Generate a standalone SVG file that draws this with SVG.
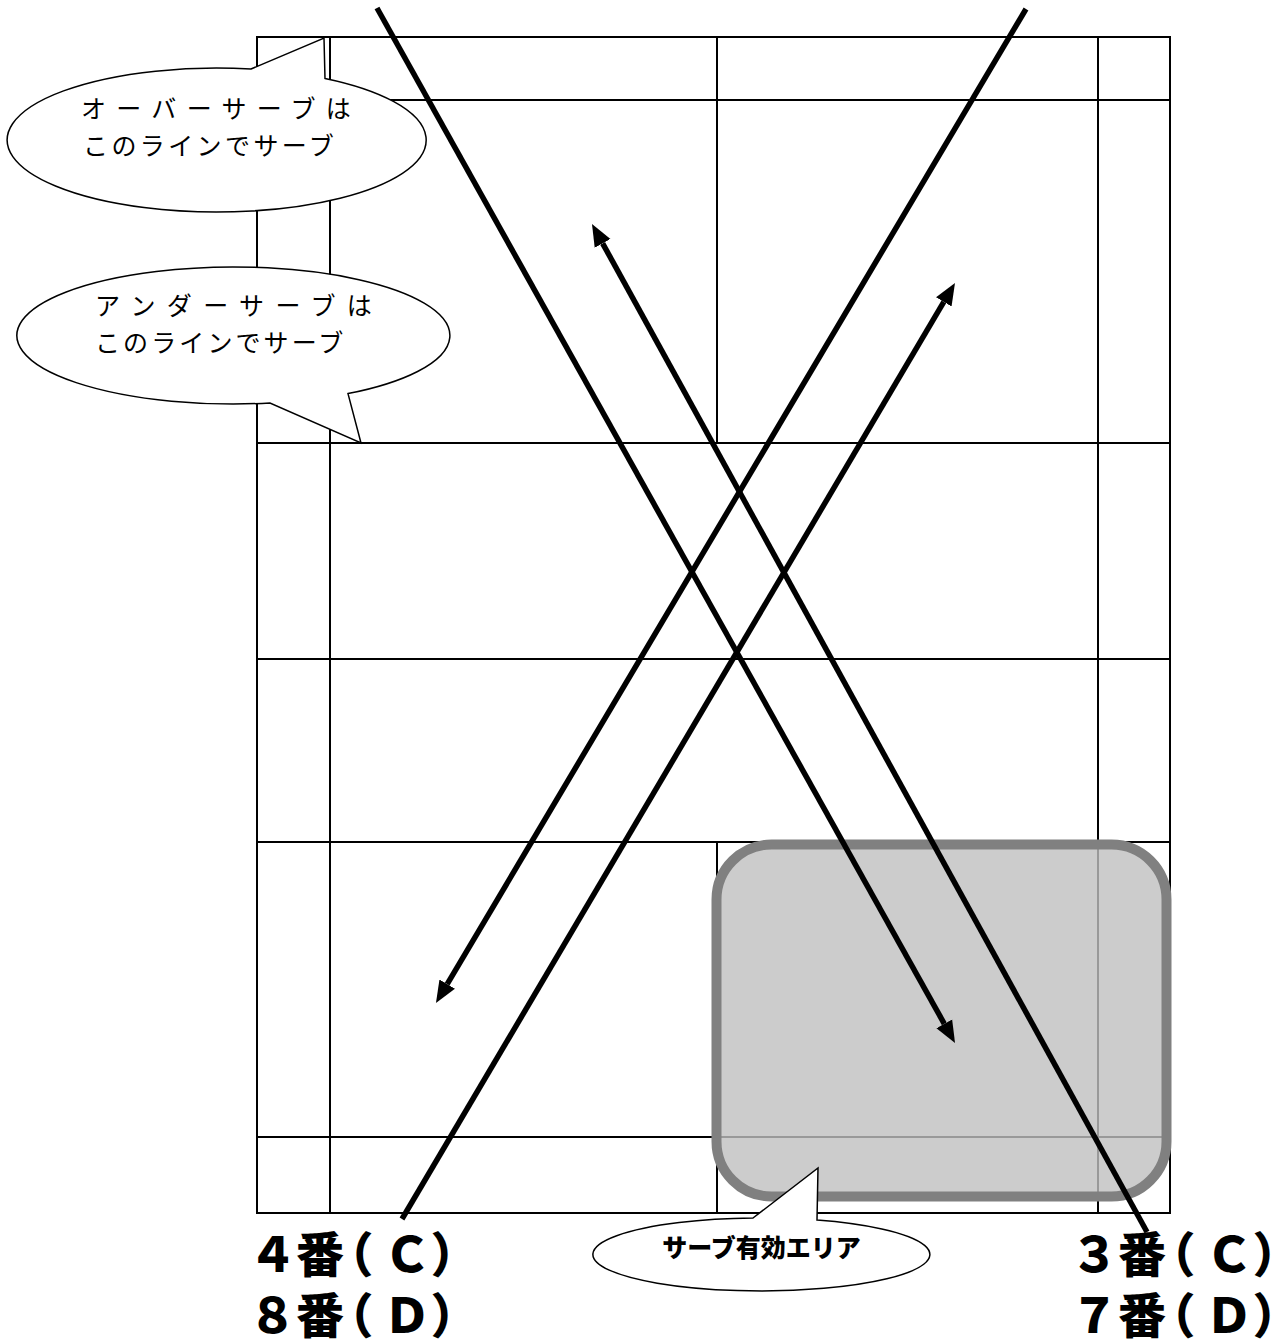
<svg xmlns="http://www.w3.org/2000/svg" width="1275" height="1340" viewBox="0 0 1275 1340">
<style>
.grid{stroke:#000;stroke-width:2;fill:none}
.area{fill:#bfbfbf;fill-opacity:0.8;stroke:#808080;stroke-width:10}
.callout{fill:#fff;stroke:#000;stroke-width:1.5}
.arrow{stroke:#000;stroke-width:5.5;fill:none}
.note{font-family:"Noto Sans CJK JP","Noto Sans CJK SC",sans-serif;font-size:25px;fill:#000}
.note-b{font-family:"Noto Sans CJK JP","Noto Sans CJK SC",sans-serif;font-size:25px;font-weight:900;fill:#000}
.label{font-family:"Noto Sans CJK JP","Noto Sans CJK SC",sans-serif;font-size:48px;font-weight:900;fill:#000}
</style>
<defs>
<marker id="head" markerUnits="userSpaceOnUse" markerWidth="24" markerHeight="20" viewBox="0 -10 24 20" refX="0" refY="0" orient="auto">
<path d="M0,-9 L22,0 L0,9 Z" fill="#000"/>
</marker>
</defs>
<rect width="1275" height="1340" fill="#fff"/>
<g id="court">
<rect class="grid" x="257" y="37" width="913" height="1176"/>
<line class="grid" x1="330" y1="37" x2="330" y2="1213"/>
<line class="grid" x1="1098" y1="37" x2="1098" y2="1213"/>
<line class="grid" x1="717" y1="37" x2="717" y2="443"/>
<line class="grid" x1="717" y1="842" x2="717" y2="1213"/>
<line class="grid" x1="257" y1="100" x2="1170" y2="100"/>
<line class="grid" x1="257" y1="443" x2="1170" y2="443"/>
<line class="grid" x1="257" y1="659" x2="1170" y2="659"/>
<line class="grid" x1="257" y1="842" x2="1170" y2="842"/>
<line class="grid" x1="257" y1="1137" x2="1170" y2="1137"/>
</g>
<g id="serve-area">
<rect class="area" x="716.5" y="844.5" width="450" height="352" rx="55" ry="55"/>
</g>
<g id="callout-over">
<path class="callout" d="M251,69 L324,38 L325,78.4 A209.5,72 0 1,1 251,69 Z"/>
<text class="note" x="81" y="118" letter-spacing="10.3">オーバーサーブは</text>
<text class="note" x="83" y="155" letter-spacing="3.4">このラインでサーブ</text>
</g>
<g id="callout-under">
<path class="callout" d="M270,403 A216.5,68.5 0 1,1 348,393.6 L361,443 Z"/>
<text class="note" x="95" y="315" letter-spacing="11.4">アンダーサーブは</text>
<text class="note" x="95" y="352" letter-spacing="3.1">このラインでサーブ</text>
</g>
<g id="connectors">
<line class="arrow" x1="377" y1="8" x2="944.3" y2="1023.8" marker-end="url(#head)"/>
<line class="arrow" x1="1147" y1="1232" x2="602.6" y2="243.3" marker-end="url(#head)"/>
<line class="arrow" x1="1026" y1="9" x2="447.2" y2="984.1" marker-end="url(#head)"/>
<line class="arrow" x1="402" y1="1219" x2="943.8" y2="301.9" marker-end="url(#head)"/>
</g>
<g id="callout-area">
<path class="callout" d="M753,1218 L818,1168 L817,1220 A168.5,36.5 0 1,1 753,1218 Z"/>
<text class="note-b" x="761.5" y="1257" text-anchor="middle">サーブ有効エリア</text>
</g>
<g id="label-left">
<text class="label" x="248.5 296 325.5 383 430.4" y="1272">４番（Ｃ）</text>
<text class="label" x="248.5 296 325.5 383 430.4" y="1333">８番（Ｄ）</text>
</g>
<g id="label-right">
<text class="label" x="1070.5 1118 1147.5 1205 1252.4" y="1272">３番（Ｃ）</text>
<text class="label" x="1070.5 1118 1147.5 1205 1252.4" y="1333">７番（Ｄ）</text>
</g>
</svg>
